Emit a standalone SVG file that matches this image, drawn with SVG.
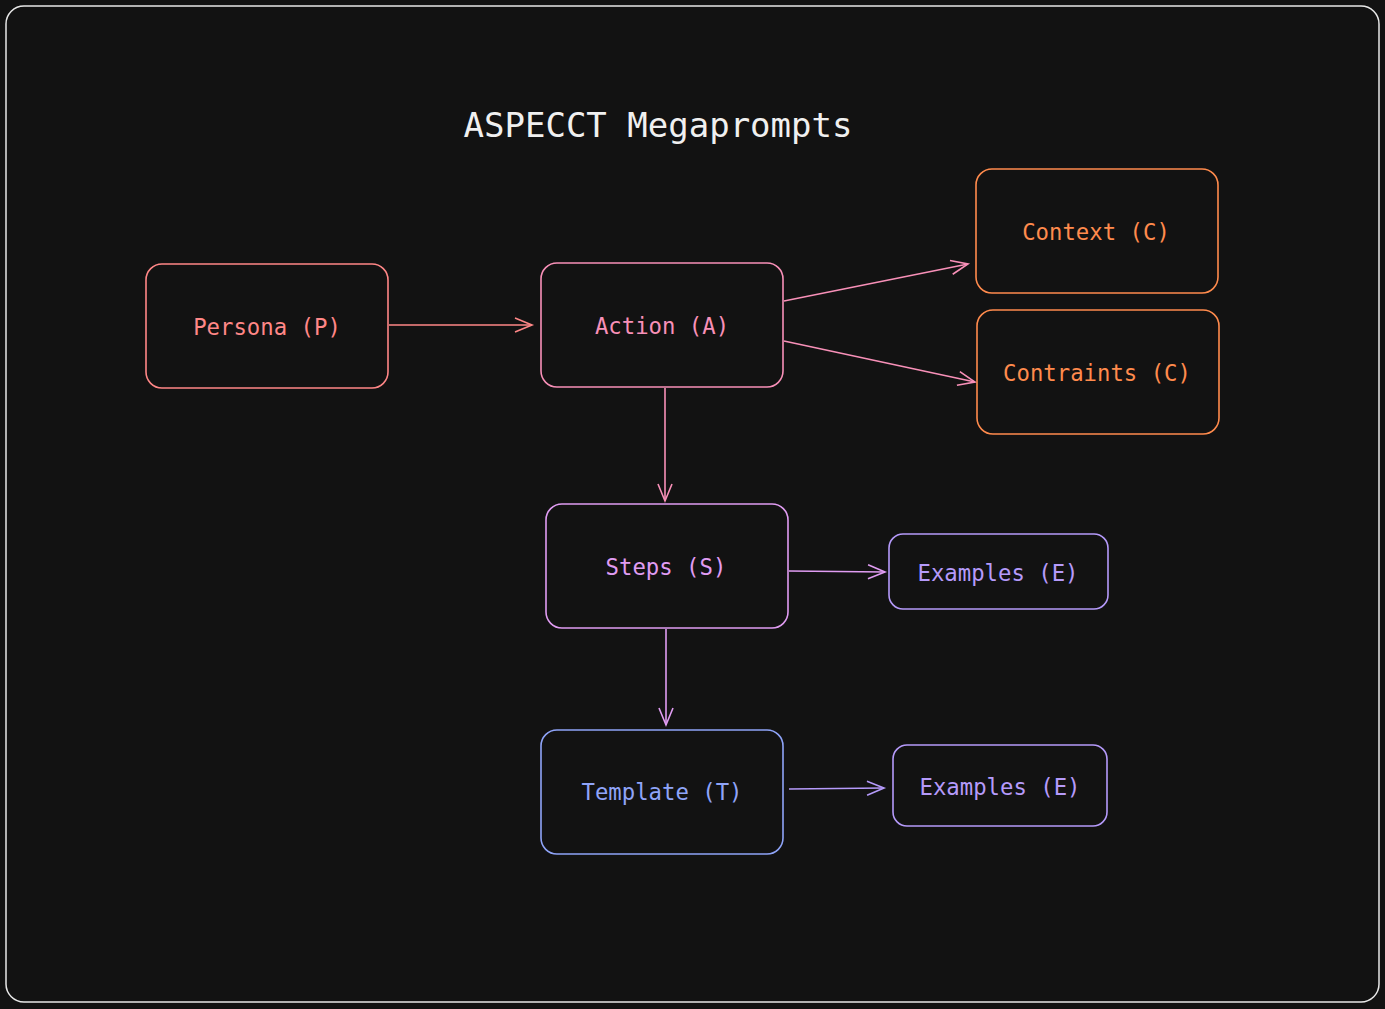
<svg xmlns="http://www.w3.org/2000/svg" width="1385" height="1009" viewBox="0 0 1385 1009">
<defs>
<style>
.node{fill:#121212;stroke-width:1.6}
.lbl{font-family:"DejaVu Sans Mono","Liberation Mono",monospace;font-size:22.3px;text-anchor:middle;dominant-baseline:central}
.edge{fill:none;stroke-width:1.6}
.salmon{stroke:#ff8787}.salmonT{fill:#ff8787}
.pink{stroke:#f890b8}.pinkT{fill:#f890b8}
.orange{stroke:#ff8b4d}.orangeT{fill:#ff8b4d}
.violet{stroke:#e09cf2}.violetT{fill:#e09cf2}
.lav{stroke:#b59afa}.lavT{fill:#b59afa}
.blue{stroke:#8fa4f8}.blueT{fill:#8fa4f8}
</style>
<marker id="mSalmon" markerUnits="userSpaceOnUse" markerWidth="24" markerHeight="20" viewBox="-20 -10 24 20" refX="0" refY="0" orient="auto" overflow="visible"><path d="M-17,-7 L0,0 L-17,7" fill="none" stroke="#ff8787" stroke-width="1.6"/></marker>
<marker id="mPink" markerUnits="userSpaceOnUse" markerWidth="24" markerHeight="20" viewBox="-20 -10 24 20" refX="0" refY="0" orient="auto" overflow="visible"><path d="M-17,-7 L0,0 L-17,7" fill="none" stroke="#f890b8" stroke-width="1.6"/></marker>
<marker id="mViolet" markerUnits="userSpaceOnUse" markerWidth="24" markerHeight="20" viewBox="-20 -10 24 20" refX="0" refY="0" orient="auto" overflow="visible"><path d="M-17,-7 L0,0 L-17,7" fill="none" stroke="#e09cf2" stroke-width="1.6"/></marker>
<marker id="mLav" markerUnits="userSpaceOnUse" markerWidth="24" markerHeight="20" viewBox="-20 -10 24 20" refX="0" refY="0" orient="auto" overflow="visible"><path d="M-17,-7 L0,0 L-17,7" fill="none" stroke="#b59afa" stroke-width="1.6"/></marker>
</defs>
<rect x="0" y="0" width="1385" height="1009" fill="#121212"/>
<rect x="6" y="6" width="1373" height="996" rx="18" fill="#121212" stroke="#e8e8e8" stroke-width="1.5"/>
<text x="658" y="125" font-family="DejaVu Sans Mono,Liberation Mono,monospace" font-size="34" fill="#f0f0f0" text-anchor="middle" dominant-baseline="central">ASPECCT Megaprompts</text>
<g id="connectors">
<path class="edge salmon" d="M389,325 L532,325" marker-end="url(#mSalmon)"/>
<path class="edge pink" d="M784,301 L968,264" marker-end="url(#mPink)"/>
<path class="edge pink" d="M784,341 L975,382" marker-end="url(#mPink)"/>
<path class="edge pink" d="M665,388 L665,501" marker-end="url(#mPink)"/>
<path class="edge violet" d="M789,571 L885,572" marker-end="url(#mViolet)"/>
<path class="edge violet" d="M666,629 L666,725" marker-end="url(#mViolet)"/>
<path class="edge lav" d="M789,789 L884,788" marker-end="url(#mLav)"/>
</g>
<g id="persona"><rect class="node salmon" x="146" y="264" width="242" height="124" rx="16"/><text class="lbl salmonT" x="267" y="327">Persona (P)</text></g>
<g id="action"><rect class="node pink" x="541" y="263" width="242" height="124" rx="16"/><text class="lbl pinkT" x="662" y="326">Action (A)</text></g>
<g id="context"><rect class="node orange" x="976" y="169" width="242" height="124" rx="16"/><text class="lbl orangeT" x="1096" y="232">Context (C)</text></g>
<g id="constraints"><rect class="node orange" x="977" y="310" width="242" height="124" rx="16"/><text class="lbl orangeT" x="1097" y="373">Contraints (C)</text></g>
<g id="steps"><rect class="node violet" x="546" y="504" width="242" height="124" rx="16"/><text class="lbl violetT" x="666" y="567">Steps (S)</text></g>
<g id="examples1"><rect class="node lav" x="889" y="534" width="219" height="75" rx="14"/><text class="lbl lavT" x="998" y="573">Examples (E)</text></g>
<g id="template"><rect class="node blue" x="541" y="730" width="242" height="124" rx="16"/><text class="lbl blueT" x="662" y="792">Template (T)</text></g>
<g id="examples2"><rect class="node lav" x="893" y="745" width="214" height="81" rx="14"/><text class="lbl lavT" x="1000" y="787">Examples (E)</text></g>
</svg>
